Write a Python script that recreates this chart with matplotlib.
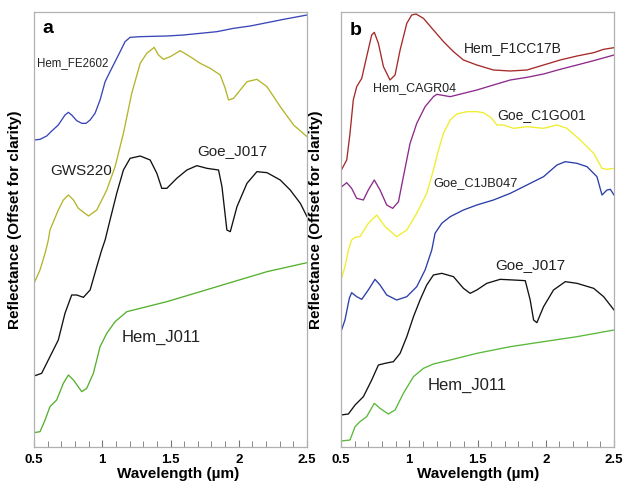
import matplotlib
matplotlib.use("Agg")
import matplotlib.pyplot as plt
from matplotlib.ticker import MultipleLocator

plt.rcParams['font.family'] = ['Liberation Sans', 'DejaVu Sans']

# ---------------- Panel a ----------------
a_fe2602_x = [0.500, 0.544, 0.593, 0.630, 0.678, 0.727, 0.752, 0.776, 0.813, 0.850, 0.881, 0.911,
              0.947, 0.984, 1.021, 1.057, 1.094, 1.131, 1.167, 1.204, 1.278, 1.473, 1.595, 1.718,
              1.840, 1.962, 2.084, 2.207, 2.329, 2.500]
a_fe2602_y = [0.921, 0.923, 0.933, 0.948, 0.966, 0.996, 1.004, 0.996, 0.979, 0.971, 0.971, 0.981,
              1.001, 1.041, 1.096, 1.126, 1.156, 1.186, 1.216, 1.229, 1.231, 1.233, 1.236, 1.241,
              1.246, 1.256, 1.263, 1.273, 1.283, 1.296]

a_gws220_x = [0.500, 0.544, 0.581, 0.605, 0.617, 0.678, 0.715, 0.752, 0.789, 0.825, 0.899, 0.960,
              1.033, 1.094, 1.155, 1.216, 1.278, 1.326, 1.363, 1.380, 1.412, 1.449, 1.498, 1.571,
              1.644, 1.718, 1.791, 1.864, 1.901, 1.925, 1.962, 2.060, 2.133, 2.207, 2.304, 2.402, 2.500]
a_gws220_y = [0.491, 0.531, 0.581, 0.621, 0.651, 0.711, 0.741, 0.756, 0.741, 0.716, 0.693, 0.711,
              0.771, 0.841, 0.941, 1.061, 1.151, 1.181, 1.193, 1.199, 1.176, 1.163, 1.171, 1.189,
              1.171, 1.151, 1.136, 1.116, 1.076, 1.041, 1.046, 1.096, 1.103, 1.081, 1.021, 0.966, 0.931]

a_goej017_x = [0.500, 0.556, 0.617, 0.678, 0.727, 0.776, 0.813, 0.862, 0.911, 0.960, 0.996, 1.021,
               1.057, 1.106, 1.155, 1.204, 1.278, 1.351, 1.400, 1.436, 1.473, 1.546, 1.620, 1.693,
               1.767, 1.852, 1.877, 1.913, 1.938, 1.987, 2.060, 2.133, 2.207, 2.304, 2.377, 2.451, 2.500]
a_goej017_y = [0.213, 0.221, 0.271, 0.321, 0.401, 0.456, 0.456, 0.449, 0.471, 0.541, 0.591, 0.621,
               0.681, 0.761, 0.831, 0.866, 0.873, 0.861, 0.821, 0.776, 0.776, 0.806, 0.831, 0.844,
               0.836, 0.831, 0.781, 0.651, 0.646, 0.721, 0.791, 0.826, 0.823, 0.801, 0.771, 0.731, 0.691]

a_hemj011_x = [0.500, 0.544, 0.581, 0.617, 0.666, 0.715, 0.752, 0.789, 0.850, 0.886, 0.935, 0.984,
               1.033, 1.094, 1.180, 1.278, 1.473, 1.718, 1.962, 2.207, 2.500]
a_hemj011_y = [0.043, 0.046, 0.081, 0.121, 0.141, 0.191, 0.216, 0.201, 0.166, 0.176, 0.221, 0.301,
               0.341, 0.376, 0.406, 0.416, 0.436, 0.466, 0.496, 0.526, 0.553]

# ---------------- Panel b ----------------
b_f1cc17b_x = [0.500, 0.542, 0.566, 0.590, 0.615, 0.652, 0.688, 0.725, 0.744, 0.774, 0.811, 0.859,
               0.896, 0.933, 0.982, 1.018, 1.050, 1.104, 1.177, 1.251, 1.324, 1.397, 1.495, 1.617,
               1.740, 1.862, 1.984, 2.106, 2.229, 2.351, 2.424, 2.500]
b_f1cc17b_y = [0.829, 0.861, 0.941, 1.041, 1.081, 1.106, 1.171, 1.236, 1.244, 1.211, 1.141, 1.101,
               1.116, 1.191, 1.271, 1.296, 1.299, 1.286, 1.251, 1.216, 1.186, 1.161, 1.146, 1.131,
               1.128, 1.131, 1.146, 1.161, 1.173, 1.183, 1.193, 1.198]

b_cagr04_x = [0.500, 0.542, 0.578, 0.615, 0.664, 0.700, 0.744, 0.786, 0.835, 0.879, 0.921, 0.957,
              1.006, 1.055, 1.116, 1.177, 1.202, 1.300, 1.397, 1.495, 1.617, 1.740, 1.862, 1.984,
              2.106, 2.229, 2.351, 2.500]
b_cagr04_y = [0.779, 0.793, 0.776, 0.746, 0.741, 0.771, 0.801, 0.771, 0.726, 0.716, 0.736, 0.811,
              0.911, 0.971, 1.021, 1.051, 1.058, 1.051, 1.061, 1.071, 1.086, 1.101, 1.109, 1.119,
              1.133, 1.146, 1.159, 1.176]

b_c1go01_x = [0.500, 0.529, 0.554, 0.578, 0.603, 0.639, 0.700, 0.762, 0.823, 0.908, 0.982, 1.055,
              1.128, 1.177, 1.214, 1.251, 1.300, 1.348, 1.422, 1.495, 1.544, 1.605, 1.642, 1.691,
              1.764, 1.862, 1.984, 2.082, 2.155, 2.253, 2.351, 2.412, 2.449, 2.500]
b_c1go01_y = [0.501, 0.541, 0.591, 0.621, 0.629, 0.631, 0.671, 0.696, 0.661, 0.631, 0.651, 0.701,
              0.761, 0.831, 0.891, 0.941, 0.981, 0.999, 1.006, 1.006, 1.003, 0.986, 0.966, 0.966,
              0.956, 0.961, 0.956, 0.966, 0.956, 0.921, 0.881, 0.836, 0.833, 0.836]

b_c1jb047_x = [0.500, 0.529, 0.561, 0.578, 0.615, 0.652, 0.700, 0.749, 0.786, 0.835, 0.908, 0.982,
               1.055, 1.116, 1.165, 1.189, 1.238, 1.300, 1.397, 1.495, 1.617, 1.740, 1.862, 1.984,
               2.082, 2.143, 2.229, 2.302, 2.375, 2.412, 2.449, 2.473, 2.500]
b_c1jb047_y = [0.346, 0.381, 0.446, 0.463, 0.451, 0.443, 0.471, 0.503, 0.486, 0.456, 0.441, 0.451,
               0.481, 0.531, 0.591, 0.641, 0.671, 0.691, 0.711, 0.726, 0.741, 0.761, 0.786, 0.811,
               0.846, 0.856, 0.851, 0.841, 0.811, 0.756, 0.771, 0.773, 0.756]

b_goej017_x = [0.500, 0.554, 0.603, 0.664, 0.725, 0.774, 0.823, 0.884, 0.933, 0.982, 1.031, 1.079,
               1.128, 1.177, 1.238, 1.324, 1.397, 1.446, 1.495, 1.568, 1.666, 1.764, 1.850, 1.886,
               1.911, 1.935, 1.984, 2.057, 2.143, 2.229, 2.351, 2.424, 2.500]
b_goej017_y = [0.096, 0.099, 0.126, 0.151, 0.201, 0.246, 0.251, 0.256, 0.281, 0.331, 0.391, 0.441,
               0.486, 0.516, 0.521, 0.511, 0.476, 0.461, 0.471, 0.491, 0.503, 0.501, 0.499, 0.441,
               0.381, 0.373, 0.421, 0.471, 0.496, 0.491, 0.476, 0.451, 0.411]

b_hemj011_x = [0.500, 0.566, 0.603, 0.639, 0.688, 0.744, 0.786, 0.847, 0.896, 0.957, 1.031, 1.104,
               1.177, 1.300, 1.495, 1.740, 1.984, 2.229, 2.500]
b_hemj011_y = [0.018, 0.021, 0.061, 0.076, 0.091, 0.131, 0.116, 0.099, 0.111, 0.161, 0.211, 0.236,
               0.249, 0.261, 0.281, 0.301, 0.316, 0.331, 0.351]

xticks = [0.5, 1.0, 1.5, 2.0, 2.5]
xticklabels = ['0.5', '1', '1.5', '2', '2.5']

panel_a = [
    (a_fe2602_x, a_fe2602_y, '#3a46b8'),
    (a_gws220_x, a_gws220_y, '#b4b42a'),
    (a_goej017_x, a_goej017_y, '#111111'),
    (a_hemj011_x, a_hemj011_y, '#55b02e'),
]
panel_b = [
    (b_f1cc17b_x, b_f1cc17b_y, '#a52a2a'),
    (b_cagr04_x, b_cagr04_y, '#8c2a8c'),
    (b_c1go01_x, b_c1go01_y, '#f0ee2c'),
    (b_c1jb047_x, b_c1jb047_y, '#2a3ea8'),
    (b_goej017_x, b_goej017_y, '#111111'),
    (b_hemj011_x, b_hemj011_y, '#5ab83a'),
]

labels_a = [
    ('Hem_FE2602', 0.522, 1.152, 8.3),
    ('GWS220', 0.617, 0.828, 11),
    ('Goe_J017', 1.694, 0.888, 11),
    ('Hem_J011', 1.145, 0.330, 12),
]
labels_b = [
    ('Hem_F1CC17B', 1.401, 1.197, 10),
    ('Hem_CAGR04', 0.734, 1.077, 9),
    ('Goe_C1GO01', 1.643, 0.996, 10),
    ('Goe_C1JB047', 1.174, 0.792, 9.3),
    ('Goe_J017', 1.628, 0.546, 11),
    ('Hem_J011', 1.137, 0.186, 12),
]

fig = plt.figure(figsize=(6.27, 4.86), dpi=100)
ax_a = fig.add_axes([34/627, 39/486, 273/627, 435/486])
ax_b = fig.add_axes([341/627, 39/486, 273/627, 435/486])

for ax, series, labels, letter, lpos, ylx, xlx in [
        (ax_a, panel_a, labels_a, 'a', (0.029, 0.952), -0.044, 0.527),
        (ax_b, panel_b, labels_b, 'b', (0.033, 0.947), -0.066, 0.504)]:
    for xs, ys, c in series:
        ax.plot(xs, ys, color=c, lw=0.95)
    for txt, x, y, fs in labels:
        ax.text(x, y, txt, fontsize=fs, ha='left', va='center', color='#222222')
    ax.text(lpos[0], lpos[1], letter, transform=ax.transAxes, fontsize=14,
            fontweight='bold', ha='left', va='baseline')
    ax.set_xlim(0.5, 2.5)
    ax.set_ylim(0, 1.305)
    ax.set_yticks([])
    ax.set_xticks(xticks)
    ax.set_xticklabels(xticklabels, fontweight='bold', fontsize=9.5)
    ax.xaxis.set_minor_locator(MultipleLocator(0.1))
    ax.tick_params(axis='x', which='both', direction='in', length=4,
                   color='#777777', pad=5)
    ax.tick_params(axis='x', which='major', length=5)
    for s in ax.spines.values():
        s.set_color('#b0b0b0')
        s.set_linewidth(0.9)
    ax.set_xlabel('Wavelength (µm)', fontweight='bold', fontsize=11)
    ax.xaxis.set_label_coords(xlx, -0.046)
    ax.set_ylabel('Reflectance (Offset for clarity)', fontweight='bold', fontsize=11)
    ax.yaxis.set_label_coords(ylx, 0.522)

fig.savefig('out.png', dpi=100)
